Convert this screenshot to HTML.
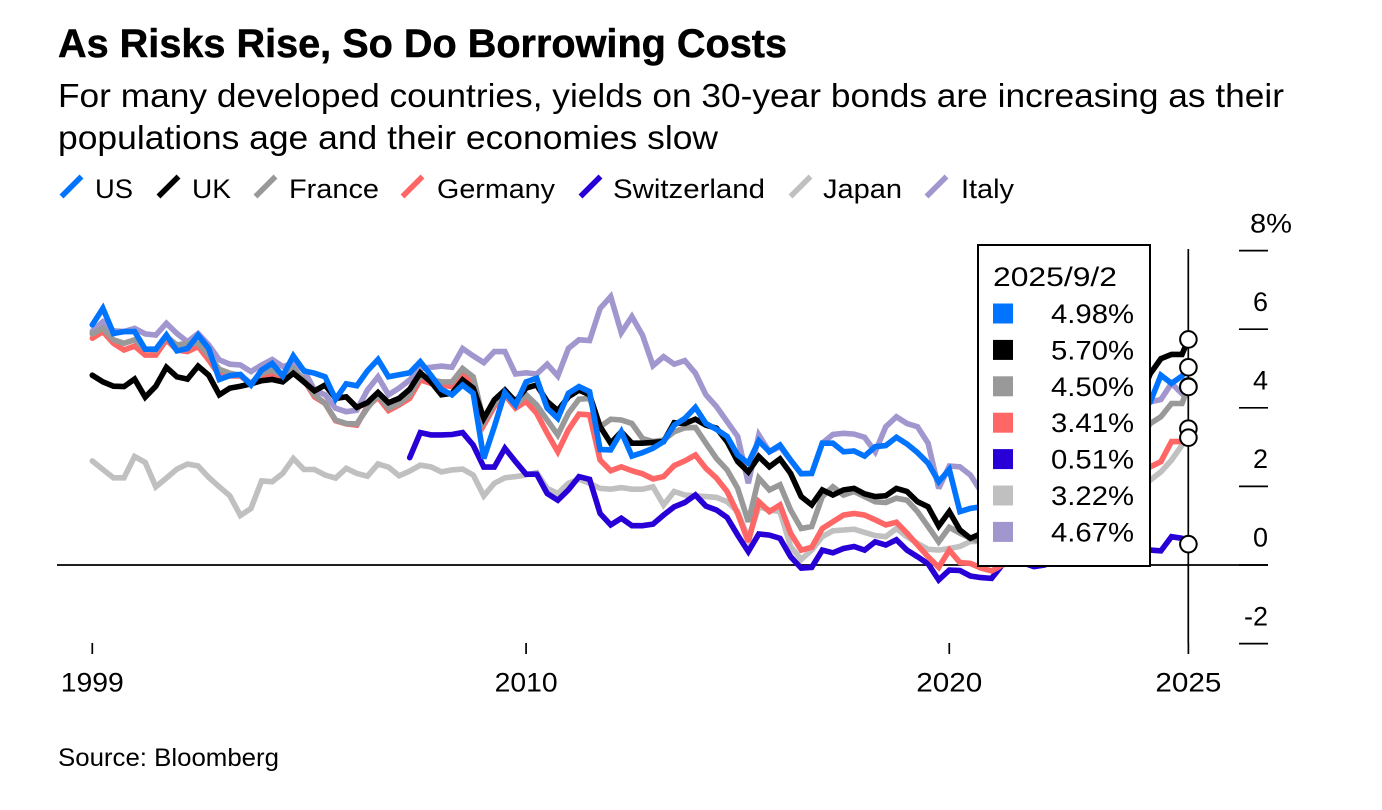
<!DOCTYPE html>
<html lang="en">
<head>
<meta charset="utf-8">
<title>As Risks Rise, So Do Borrowing Costs</title>
<style>
html,body{margin:0;padding:0;background:#fff;}
svg{display:block;}
text{font-family:"Liberation Sans",sans-serif;fill:#000;}
</style>
</head>
<body>
<svg id="chart" width="1382" height="810" viewBox="0 0 1382 810" xmlns="http://www.w3.org/2000/svg">
  <rect x="0" y="0" width="1382" height="810" fill="#fff"/>
  <text x="58" y="57" font-size="40" font-weight="700" stroke="#000" stroke-width="0.5" textLength="729" lengthAdjust="spacingAndGlyphs">As Risks Rise, So Do Borrowing Costs</text>
  <text x="58" y="107" font-size="33.5" textLength="1226" lengthAdjust="spacingAndGlyphs">For many developed countries, yields on 30-year bonds are increasing as their</text>
  <text x="58" y="149" font-size="33.5" textLength="660" lengthAdjust="spacingAndGlyphs">populations age and their economies slow</text>
  <g id="legend"></g>
  <g id="grid"></g>
  <g id="lines"></g>
  <g id="panel"></g>
  <g id="markers"></g>
  <text x="58" y="766" font-size="25" textLength="221" lengthAdjust="spacingAndGlyphs">Source: Bloomberg</text>
</svg>
<script>
const periods = [0,1,2,3,4,5,6,7,8,9,10,11,12,13,14,15,16,17,18,19,20,21,22,23,24,25,26,27,28,29,30,31,32,33,34,35,36,37,38,39,40,41,42,43,44,45,46,47,48,49,50,51,52,53,54,55,56,57,58,59,60,61,62,63,64,65,66,67,68,69,70,71,72,73,74,75,76,77,78,79,80,81,82,83,84,85,86,87,88,89,90,91,92,93,94,95,96,97,98,99,100,101,102,103,103.6];
const seriesNames = ["US","UK","France","Germany","Switzerland","Japan","Italy"];
const usValues = [6.11,6.53,5.89,5.94,5.94,5.49,5.49,5.85,5.45,5.51,5.85,5.51,4.72,4.82,4.85,4.58,4.96,5.13,4.81,5.32,4.94,4.88,4.79,4.22,4.61,4.56,4.94,5.23,4.79,4.84,4.89,5.17,4.83,4.47,4.33,4.58,4.37,2.71,3.52,4.39,
4.07,4.66,4.75,3.99,3.73,4.37,4.54,4.41,2.94,2.93,3.39,2.77,2.86,2.97,3.14,3.56,3.73,4.01,3.60,3.45,3.27,2.80,2.59,3.16,2.88,3.05,2.67,2.32,2.33,3.10,3.10,2.88,2.90,2.77,3.01,3.04,3.25,3.08,2.86,2.59,2.12,2.43,1.36,1.44,
1.48,1.5,1.55,1.6,1.75,1.9,2.2,2.5,2.9,3.2,3.4,3.6,3.5,3.7,3.9,3.9,
4.15,4.83,4.62,4.81,5.03];
const ukValues = [4.83,4.66,4.55,4.54,4.73,4.27,4.55,5.03,4.79,4.73,5.06,4.83,4.33,4.50,4.55,4.61,4.69,4.72,4.66,4.88,4.66,4.43,4.58,4.24,4.28,4.01,4.13,4.39,4.13,4.24,4.47,4.89,4.66,4.33,4.37,4.71,4.50,3.73,4.20,4.45,
4.16,4.50,4.58,4.16,3.93,4.28,4.45,4.33,3.52,3.10,3.39,3.10,3.10,3.12,3.14,3.62,3.60,3.71,3.56,3.48,3.14,2.63,2.37,2.76,2.50,2.70,2.33,1.74,1.53,1.91,1.78,1.91,1.95,1.81,1.74,1.76,1.95,1.87,1.61,1.48,0.99,1.36,0.89,0.68,
0.8,0.9,1.0,1.1,1.2,1.3,1.6,2.0,2.6,3.0,3.4,3.6,3.5,3.8,3.9,4.2,
4.87,5.25,5.36,5.36,5.74];
const franceValues = [5.88,6.02,5.73,5.64,5.73,5.49,5.47,5.81,5.60,5.64,5.64,5.34,4.98,4.88,4.83,4.62,4.88,4.96,4.83,5.00,4.71,4.33,4.11,3.69,3.60,3.59,3.99,4.33,3.99,4.11,4.33,4.83,4.71,4.66,4.66,5.00,4.79,3.65,4.11,4.37,
4.07,4.33,4.07,3.69,3.31,3.86,4.22,4.24,3.52,3.71,3.69,3.60,3.22,3.14,3.18,3.39,3.49,3.50,3.10,2.71,2.42,1.95,1.10,2.21,1.91,2.04,1.40,0.93,0.98,1.74,1.99,1.78,1.87,1.74,1.61,1.59,1.70,1.65,1.36,0.98,0.59,0.96,0.81,0.68,
0.6,0.7,0.8,0.85,0.9,1.0,1.2,1.5,2.0,2.4,2.8,2.9,2.8,3.0,3.1,3.2,
3.60,3.77,4.11,4.11,4.54];
const germanyValues = [5.77,5.94,5.64,5.47,5.57,5.34,5.34,5.73,5.47,5.43,5.56,5.22,4.83,4.81,4.81,4.61,4.75,4.83,4.75,4.96,4.71,4.28,4.11,3.67,3.59,3.56,4.03,4.27,3.93,4.07,4.24,4.71,4.62,4.58,4.54,4.83,4.62,3.56,4.03,4.33,
3.99,4.16,3.86,3.35,2.88,3.44,3.84,3.82,2.67,2.40,2.50,2.40,2.32,2.19,2.25,2.53,2.65,2.80,2.46,2.21,1.87,1.31,0.59,1.61,1.36,1.53,0.81,0.38,0.45,0.93,1.10,1.27,1.31,1.27,1.15,1.02,1.09,0.81,0.51,0.21,-0.06,0.38,0.06,0.04,
-0.08,-0.15,0,0.1,0.2,0.3,0.6,1.0,1.6,2.0,2.2,2.4,2.2,2.3,2.5,2.6,
2.50,2.63,3.14,3.14,3.47];
const switzerlandValues = [null,null,null,null,null,null,null,null,null,null,null,null,null,null,null,null,null,null,null,null,null,null,null,null,null,null,null,null,null,null,2.73,3.37,3.31,3.31,3.32,3.37,3.05,2.49,2.49,2.97,
2.63,2.31,2.31,1.82,1.65,1.91,2.25,2.18,1.31,1.02,1.19,1.00,1.00,1.04,1.27,1.48,1.59,1.78,1.50,1.40,1.21,0.76,0.34,0.79,0.76,0.68,0.21,-0.08,-0.06,0.38,0.31,0.42,0.47,0.38,0.59,0.51,0.64,0.38,0.21,0.03,-0.38,-0.13,-0.14,-0.28,
-0.32,-0.34,0,0.1,0.05,-0.04,0,0.1,0.3,0.6,0.7,0.8,0.7,0.6,0.5,0.4,
0.38,0.36,0.72,0.68,0.53];
const japanValues = [2.65,2.43,2.22,2.22,2.76,2.61,1.99,2.21,2.44,2.57,2.52,2.23,1.99,1.76,1.26,1.44,2.14,2.12,2.33,2.71,2.43,2.43,2.29,2.21,2.46,2.33,2.26,2.57,2.49,2.27,2.39,2.54,2.50,2.37,2.42,2.44,2.29,1.76,2.08,2.22,
2.25,2.29,2.35,1.95,1.82,2.08,2.18,2.08,1.95,1.93,1.97,1.93,1.93,1.99,1.53,1.87,1.78,1.76,1.74,1.72,1.61,1.36,0.68,1.48,1.40,1.36,0.47,0.14,0.38,0.72,0.87,0.89,0.91,0.83,0.75,0.72,0.93,0.72,0.55,0.40,0.38,0.42,0.47,0.60,
0.6,0.65,0.7,0.8,0.9,1.0,1.3,1.6,1.9,2.0,2.0,2.1,2.0,1.9,1.9,2.0,
2.16,2.37,2.67,3.05,3.24];
const italyValues = [5.95,6.19,5.96,5.94,6.02,5.88,5.85,6.15,5.89,5.68,5.89,5.60,5.22,5.11,5.09,4.92,5.09,5.23,5.05,5.13,4.96,4.45,4.33,3.99,3.90,3.94,4.45,4.79,4.33,4.50,4.71,5.00,5.03,5.06,5.03,5.51,5.32,5.15,5.43,5.43,
4.86,4.89,4.86,5.11,4.81,5.51,5.73,5.71,6.53,6.83,5.91,6.32,5.85,5.07,5.30,5.11,5.20,4.88,4.33,4.03,3.65,3.27,2.08,3.31,2.88,3.01,2.67,2.33,2.33,3.10,3.32,3.35,3.33,3.25,2.88,3.52,3.77,3.60,3.52,3.10,1.95,2.52,2.50,2.29,
1.87,1.8,1.7,1.6,1.5,1.5,1.8,2.0,2.4,2.8,3.2,3.4,3.3,3.5,3.7,3.9,
4.15,4.21,4.62,4.36,4.53];
const panelDate = "2025/9/2";
const panelValues = ["4.98%","5.70%","4.50%","3.41%","0.51%","3.22%","4.67%"];
const yTickValues = [8,6,4,2,0,-2];
const yTickLabels = ["8%","6","4","2","0","-2"];
const xTickPeriods = [0,41,81,103.6];
const xTickLabels = ["1999","2010","2020","2025"];

const NS = "http://www.w3.org/2000/svg";
const xScale = p => 92.3 + p * 10.58;
const yScale = v => 565 - v * 39.3;
const colors = ["#0074ff","#000000","#999999","#ff6666","#2800d7","#c0c0c0","#a296cf"];
const allValues = [usValues,ukValues,franceValues,germanyValues,switzerlandValues,japanValues,italyValues];
const legendSwatchX = [60,157,254,401,579,789,925];
const legendTextX = [95,192,289,437,613,823,961];
const legendTextW = [38,39,90,118,152,79,53];
const xLabelWidth = [63,63,66,66];

function mk(tag, attrs, parent, txt){
  const el = document.createElementNS(NS, tag);
  for (const k in attrs) el.setAttribute(k, attrs[k]);
  if (txt !== undefined) el.textContent = txt;
  parent.appendChild(el);
  return el;
}
const legend = document.getElementById("legend");
const grid = document.getElementById("grid");
const linesG = document.getElementById("lines");
const panel = document.getElementById("panel");
const markers = document.getElementById("markers");

seriesNames.forEach((name, i) => {
  const sw = mk("line", {x1:legendSwatchX[i]+1.5, y1:196.5, x2:legendSwatchX[i]+21.5, y2:176.5, stroke:colors[i], "stroke-width":5.5}, legend);
  
  
  const t = mk("text", {x:legendTextX[i], y:198, "font-size":27, textLength:legendTextW[i], lengthAdjust:"spacingAndGlyphs"}, legend, name);
  
  
});

yTickValues.forEach((v, i) => {
  const ln = mk("line", {x1:1239, x2:1268, y1:yScale(v), y2:yScale(v), stroke:"#000", "stroke-width":1.7}, grid);
  
  
  const first = i === 0;
  const attrs = {x: first ? 1250 : 1268, y: yScale(v) - 18.3, "font-size":27, "text-anchor": first ? "start" : "end"};
  if (first) { attrs.textLength = 42; attrs.lengthAdjust = "spacingAndGlyphs"; }
  const t = mk("text", attrs, grid, yTickLabels[i]);
  
  
});

const zeroLine = mk("line", {x1:57, x2:1268, y1:yScale(0), y2:yScale(0), stroke:"#000", "stroke-width":1.7}, grid);



xTickPeriods.forEach((p, i) => {
  const x = xScale(p);
  const tk = mk("line", {x1:x, x2:x, y1:643, y2:654, stroke:"#000", "stroke-width":1.7}, grid);
  
  
  const t = mk("text", {x:x - xLabelWidth[i] / 2, y:691.5, "font-size":26.5, textLength:xLabelWidth[i], lengthAdjust:"spacingAndGlyphs"}, grid, xTickLabels[i]);
  
  
});

for (let s = seriesNames.length - 1; s >= 0; s--) {
  let d = "";
  let pen = false;
  allValues[s].forEach((v, i) => {
    if (v === null) { pen = false; return; }
    d += (pen ? "L" : "M") + xScale(periods[i]).toFixed(1) + " " + yScale(v).toFixed(1);
    pen = true;
  });
  const path = mk("path", {d:d, fill:"none", stroke:colors[s], "stroke-width":5.6, "stroke-linejoin":"miter", "stroke-miterlimit":3, "stroke-linecap":"round"}, linesG);
  
  
}

const box = mk("rect", {x:978, y:245, width:172, height:321, fill:"#fff", stroke:"#000", "stroke-width":2}, panel);


const dateText = mk("text", {x:993, y:286, "font-size":27, textLength:124, lengthAdjust:"spacingAndGlyphs"}, panel, panelDate);


const rowSpacing = 36.4;
panelValues.forEach((label, i) => {
  const rowBase = 323 + i * rowSpacing;
  const sq = mk("rect", {x:993, y:rowBase - 19.5, width:20, height:20, fill:colors[i]}, panel);
  
  
  const t = mk("text", {x:1051, y:rowBase, "font-size":27, textLength:83, lengthAdjust:"spacingAndGlyphs"}, panel, label);
  
  
});

const cursor = mk("line", {x1:1188.3, x2:1188.3, y1:249, y2:643, stroke:"#000", "stroke-width":1.7}, markers);


allValues.forEach((vals) => {
  const last = vals.length - 1;
  const c = mk("circle", {cx:xScale(periods[last]), cy:yScale(vals[last]), r:8.3, fill:"#fff", stroke:"#000", "stroke-width":2}, markers);
  
  
});
</script>
</body>
</html>
